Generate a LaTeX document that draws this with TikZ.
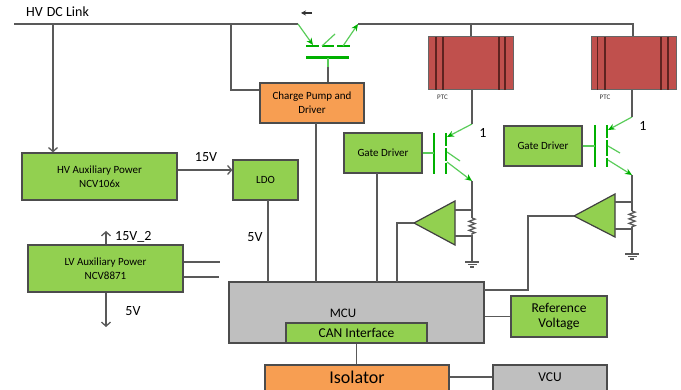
\documentclass[tikz,border=0pt]{standalone}
\usepackage{fontspec}
\setmainfont{Carlito}
\usetikzlibrary{arrows.meta,decorations.pathmorphing}
\definecolor{boxgreen}{HTML}{92D050}
\definecolor{boxorange}{HTML}{F79E52}
\definecolor{boxgray}{HTML}{BFBFBF}
\definecolor{ptcred}{HTML}{C0504D}
\definecolor{ptcdark}{HTML}{5E2320}
\definecolor{igbtgreen}{HTML}{00B000}
\definecolor{wiregray}{HTML}{595959}
\tikzset{
	wire/.style={draw=wiregray, line width=1.3pt},
	block/.style={rectangle, draw=black!70, line width=1.2pt, align=center, inner sep=0pt, font=\fontsize{11}{14}\selectfont, text=black},
	greenblock/.style={block, fill=boxgreen},
	orangeblock/.style={block, fill=boxorange},
	grayblock/.style={block, fill=boxgray},
	ptcblock/.style={rectangle, draw=black!60, line width=1pt, fill=ptcred, minimum width=85pt, minimum height=53pt},
	amp/.style={draw=black!75, line width=1.2pt, fill=boxgreen},
	igbtbar/.style={draw=igbtgreen, line width=2.8pt},
	igbtlead/.style={draw=igbtgreen!65!white, line width=1.2pt},
	igbtarrow/.style={draw=igbtgreen!65!white, line width=1.2pt, -{Stealth[length=7pt, width=6pt, color=igbtgreen]}},
	wirelabel/.style={font=\fontsize{14}{16}\selectfont, text=black, inner sep=0pt},
	res/.style={wire, decorate, decoration={zigzag, amplitude=3pt, segment length=4.5pt}},
}
\begin{document}
\begin{tikzpicture}[x=1pt, y=-1pt, >={Straight Barb[length=4pt, width=9pt]}]
	\clip (0,0) rectangle (681,390);
	% blocks
	\node[greenblock, minimum width=155pt, minimum height=47pt] (hvaux) at (99.5,176.5) {HV Auxiliary Power\\NCV106x};
	\node[greenblock, minimum width=65pt, minimum height=40pt] (ldo) at (265.5,180) {LDO};
	\node[greenblock, minimum width=155pt, minimum height=47pt] (lvaux) at (105.5,268.5) {LV Auxiliary Power\\NCV8871};
	\node[orangeblock, minimum width=104pt, minimum height=40pt] (pump) at (312,103) {Charge Pump and\\Driver};
	\node[greenblock, minimum width=78pt, minimum height=40pt] (gate1) at (383,153) {Gate Driver};
	\node[greenblock, minimum width=78pt, minimum height=40pt] (gate2) at (543,146) {Gate Driver};
	\node[grayblock, minimum width=255pt, minimum height=61pt] (mcu) at (356.5,312.5) {};
	\node[wirelabel, font=\fontsize{13}{15}\selectfont] (mculabel) at (343,313) {MCU};
	\node[greenblock, minimum width=141pt, minimum height=20pt, font=\fontsize{13.5}{15}\selectfont] (can) at (356.5,333) {CAN Interface};
	\node[greenblock, minimum width=96pt, minimum height=41pt, font=\fontsize{13.5}{15}\selectfont] (vref) at (559,316.5) {Reference\\Voltage};
	\node[orangeblock, minimum width=184pt, minimum height=30pt, font=\fontsize{18}{20}\selectfont] (isolator) at (357,380) {\raisebox{6pt}{Isolator}};
	\node[grayblock, minimum width=114pt, minimum height=30pt, font=\fontsize{13.5}{15}\selectfont] (vcu) at (550,380) {\raisebox{6pt}{VCU}};
	\node[ptcblock] (ptc1) at (471,63.5) {};
	\node[ptcblock] (ptc2) at (633.5,63.5) {};
	% ptc stripes
	\foreach \x in {436,443,499,505,597.5,605,661,668}
		\draw[ptcdark, line width=1.3pt] (\x,37) -- (\x,90);
	\node[font=\fontsize{7}{8}\selectfont, text=black!80, inner sep=0pt] (ptclabel1) at (442.5,97.5) {PTC};
	\node[font=\fontsize{7}{8}\selectfont, text=black!80, inner sep=0pt] (ptclabel2) at (605,97.5) {PTC};
	% amplifiers
	\coordinate (amp1tip) at (414,223);
	\coordinate (amp2tip) at (574,216);
	\draw[amp] (amp1tip) -- (455,201) -- (455,245) -- cycle;
	\draw[amp] (amp2tip) -- (615,194) -- (615,237) -- cycle;
	% rail and top switch
	\coordinate (railstart) at (14,24);
	\coordinate (sw1) at (298,24);
	\coordinate (sw2) at (358,24);
	\coordinate (railhv) at (53,24);
	\coordinate (railpump) at (231,24);
	\coordinate (pumpleft) at (231,90);
	\coordinate (railptc1) at (471,24);
	\coordinate (railptc2) at (633,24);
	\draw[wire] (railstart) -- (sw1);
	\draw[wire] (sw2) -- (railptc2) -- (ptc2.north -| railptc2);
	\draw[wire] (railptc1) -- (ptc1.north -| railptc1);
	\draw[wire, ->] (railhv) -- (hvaux.north -| railhv);
	\draw[wire] (railpump) -- (pumpleft) -- (pumpleft -| pump.west);
	\draw[igbtbar] (306,46) -- (318.5,46) (322,46) -- (334,46) (337,46) -- (350,46);
	\draw[igbtbar] (306,57.5) -- (349,57.5);
	\draw[igbtarrow] (sw1) -- (313,45);
	\draw[igbtlead] (322,46) -- (335,34);
	\draw[igbtarrow] (343,46) -- (sw2);
	\draw[igbtlead] (328,58) -- (328,67);
	\coordinate (stem) at (328,67);
	\draw[wire] (stem) -- (stem |- pump.north);
	\draw[black!80, line width=1.1pt, -{Stealth[length=5pt, width=5pt]}] (312,13) -- (301,13);
	% left igbt
	\coordinate (c1) at (472,124);
	\coordinate (e1) at (472,181);
	\coordinate (gnd1) at (472,262);
	\draw[igbtbar] (434,133) -- (434,174);
	\draw[igbtbar] (446,133) -- (446,146) (446,148) -- (446,161) (446,163) -- (446,174);
	\draw[igbtlead] (gate1.east |- 0,153) -- (434,153);
	\draw[igbtarrow] (c1) -- (447,137);
	\draw[igbtlead] (447,152) -- (460,161);
	\draw[igbtarrow] (447,162) -- (e1);
	\draw[wire] (ptc1.south -| c1) -- (c1);
	\draw[wire] (e1) -- (472,218);
	\draw[res] (472,218) -- (472,235);
	\draw[wire] (472,235) -- (gnd1);
	\draw[wire] (455,210) -- (472,210) (455,236) -- (472,236);
	\draw[wire] (465,262) -- (479,262);
	\draw[wire] (467.5,264.5) -- (476.5,264.5) (470,267) -- (474,267);
	% right igbt
	\coordinate (c2) at (632,117);
	\coordinate (e2) at (632,175);
	\coordinate (gnd2) at (632,254);
	\draw[igbtbar] (595,125) -- (595,167);
	\draw[igbtbar] (607,125) -- (607,138) (607,140) -- (607,156) (607,158) -- (607,167);
	\draw[igbtlead] (gate2.east) -- (595,146);
	\draw[igbtarrow] (c2) -- (608,130);
	\draw[igbtlead] (608,146) -- (620,153);
	\draw[igbtarrow] (608,160) -- (e2);
	\draw[wire] (ptc2.south -| c2) -- (c2);
	\draw[wire] (e2) -- (632,211);
	\draw[res] (632,211) -- (632,227);
	\draw[wire] (632,227) -- (gnd2);
	\draw[wire] (615,202) -- (632,202) (615,229) -- (632,229);
	\draw[wire] (625,254) -- (639,254);
	\draw[wire] (627.5,256.5) -- (636.5,256.5) (630,259) -- (634,259);
	% connections to mcu
	\draw[wire, ->] (hvaux.east |- 0,170) -- (ldo.west |- 0,170);
	\draw[wire] (268,200) -- (268,282);
	\draw[wire] (316,123) -- (316,282);
	\draw[wire] (377,173) -- (377,282);
	\draw[wire] (amp1tip) -- (397,223) -- (397,282);
	\draw[wire] (amp2tip) -- (528,216) -- (528,290) -- (484,290);
	\draw[wire] (mcu.east |- vref) -- (vref.west);
	\draw[wire] (can.south) -- (isolator.north -| can.south);
	\draw[wire] (isolator.east |- 0,377) -- (vcu.west |- 0,377);
	% lv auxiliary outputs
	\coordinate (lvup) at (106,231);
	\coordinate (lvdown) at (106,327);
	\coordinate (lvout1) at (220,262);
	\coordinate (lvout2) at (219,277);
	\draw[wire, ->] (lvup |- lvaux.north) -- (lvup);
	\draw[wire, ->] (lvdown |- lvaux.south) -- (lvdown);
	\draw[wire] (lvout1 -| lvaux.east) -- (lvout1);
	\draw[wire] (lvout2 -| lvaux.east) -- (lvout2);
	% labels
	\node[wirelabel, anchor=west] (hvlabel) at (26,12) {HV\hspace{4pt}DC Link};
	\node[wirelabel] (v15) at (206,157) {15V};
	\node[wirelabel, anchor=west] (v15b) at (115,237) {15V\_2};
	\node[wirelabel] (v5a) at (255,237) {5V};
	\node[wirelabel] (v5b) at (133,311) {5V};
	\node[wirelabel] (one1) at (483,133) {1};
	\node[wirelabel] (one2) at (643,126) {1};
\end{tikzpicture}
\end{document}
